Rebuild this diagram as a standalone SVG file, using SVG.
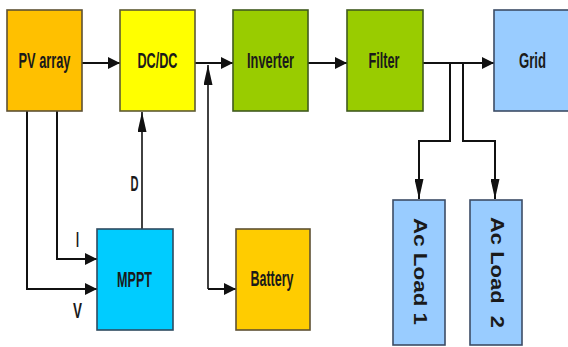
<svg xmlns="http://www.w3.org/2000/svg" width="568" height="347" viewBox="0 0 568 347">
<style>
.box{stroke-width:1.6}
.orange{fill:#FFC000;stroke:#5e5132}
.yellow{fill:#FFFF00;stroke:#5e5a32}
.green{fill:#99CC00;stroke:#405a1e}
.blue{fill:#99CCFF;stroke:#3c4d66}
.cyan{fill:#00CCFF;stroke:#2e4a60}
.gold{fill:#FFCC00;stroke:#5e5132}
.lbl{font-family:"Liberation Sans",Arial,sans-serif;font-weight:bold;font-size:22px;fill:#1a1a1a;text-anchor:middle}
.vl{font-family:"Liberation Sans",Arial,sans-serif;font-weight:bold;font-size:18px;fill:#1a1a1a;text-anchor:middle}
.ln{fill:none;stroke:#111;stroke-width:2}
.ln2{fill:none;stroke:#111;stroke-width:1.6}
</style>
<defs>
<marker id="ah" markerUnits="userSpaceOnUse" markerWidth="12" markerHeight="12" refX="12" refY="6" orient="auto" viewBox="0 0 12 12">
<path d="M0,0 L12,6 L0,12 z" fill="#111"/>
</marker>
<marker id="av" markerUnits="userSpaceOnUse" markerWidth="20" markerHeight="9" refX="20" refY="4.5" orient="auto" viewBox="0 0 20 9">
<path d="M0,0 L20,4.5 L0,9 z" fill="#111"/>
</marker>
</defs>
<rect width="568" height="347" fill="#fff"/>
<g id="connectors">
<path class="ln" d="M82,63 L120,63" marker-end="url(#ah)"/>
<path class="ln" d="M195,63 L233,63" marker-end="url(#ah)"/>
<path class="ln" d="M308,63 L347,63" marker-end="url(#ah)"/>
<path class="ln" d="M423,63 L494,63" marker-end="url(#ah)"/>
<path class="ln2" d="M208,289 L208,65" marker-end="url(#av)"/>
<path class="ln" d="M208,289 L236,289" marker-end="url(#ah)"/>
<path class="ln2" d="M142,229 L142,112" marker-end="url(#av)"/>
<path class="ln" d="M57,111 L57,259 L97,259" marker-end="url(#ah)"/>
<path class="ln" d="M27,111 L27,289 L97,289" marker-end="url(#ah)"/>
<path class="ln" d="M450,63 L450,141 L419,141 L419,199" marker-end="url(#av)"/>
<path class="ln" d="M463,63 L463,141 L495,141 L495,199" marker-end="url(#av)"/>
<text class="lbl" x="134.5" y="191" textLength="8" lengthAdjust="spacingAndGlyphs">D</text>
<text class="lbl" x="77.5" y="247" textLength="3" lengthAdjust="spacingAndGlyphs">I</text>
<text class="lbl" x="77.5" y="318" textLength="9" lengthAdjust="spacingAndGlyphs">V</text>
</g>
<g id="pv">
<rect class="box orange" x="7" y="10" width="75" height="101"/>
<text class="lbl" x="44.5" y="68" textLength="52" lengthAdjust="spacingAndGlyphs">PV array</text>
</g>
<g id="dcdc">
<rect class="box yellow" x="120" y="10" width="75" height="101"/>
<text class="lbl" x="157.5" y="68" textLength="40" lengthAdjust="spacingAndGlyphs">DC/DC</text>
</g>
<g id="inverter">
<rect class="box green" x="233" y="10" width="75" height="101"/>
<text class="lbl" x="270.5" y="68" textLength="47" lengthAdjust="spacingAndGlyphs">Inverter</text>
</g>
<g id="filter">
<rect class="box green" x="347" y="10" width="76" height="101"/>
<text class="lbl" x="384" y="68" textLength="31" lengthAdjust="spacingAndGlyphs">Filter</text>
</g>
<g id="grid">
<rect class="box blue" x="494" y="10" width="76" height="101"/>
<text class="lbl" x="532.5" y="68" textLength="27" lengthAdjust="spacingAndGlyphs">Grid</text>
</g>
<g id="mppt">
<rect class="box cyan" x="97" y="229" width="76" height="101"/>
<text class="lbl" x="134.5" y="287" textLength="35" lengthAdjust="spacingAndGlyphs">MPPT</text>
</g>
<g id="battery">
<rect class="box gold" x="236" y="229" width="74" height="101"/>
<text class="lbl" x="272" y="286" textLength="43" lengthAdjust="spacingAndGlyphs">Battery</text>
</g>
<g id="load1">
<rect class="box blue" x="393" y="200" width="52" height="145"/>
<text class="vl" transform="translate(420,271.5) rotate(90)" x="0" y="6.5" textLength="107" lengthAdjust="spacingAndGlyphs">Ac Load 1</text>
</g>
<g id="load2">
<rect class="box blue" x="470" y="200" width="52" height="145"/>
<text class="vl" transform="translate(497.5,272.5) rotate(90)" x="0" y="6.5" textLength="111" lengthAdjust="spacingAndGlyphs" xml:space="preserve">Ac Load  2</text>
</g>
</svg>
